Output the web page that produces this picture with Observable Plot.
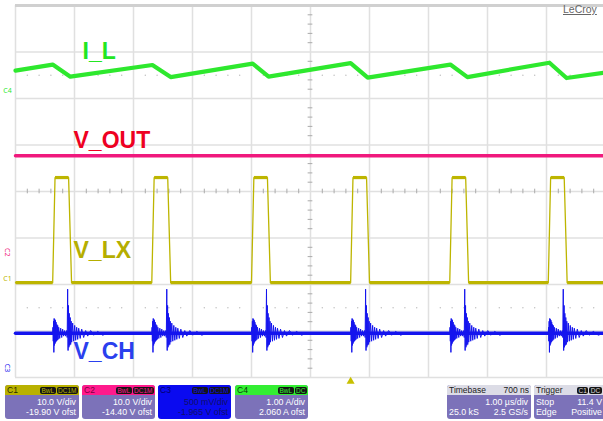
<!DOCTYPE html>
<html><head><meta charset="utf-8">
<script src="https://cdn.jsdelivr.net/npm/d3@7"></script>
<script src="https://cdn.jsdelivr.net/npm/@observablehq/plot@0.6"></script>
<style>
body{margin:0;background:#fff;font-family:"Liberation Sans",Arial,sans-serif;}
#wrap{position:relative;width:603px;height:421px;overflow:hidden;background:#fff;}
#chart svg{display:block;}
#bar{position:relative;width:603px;height:36px;}
#logo{position:absolute;left:563px;top:3px;font-size:10.5px;color:#666;text-decoration:underline;}
.box{position:absolute;top:0;height:34px;border-radius:3px;background:#7c72b9;overflow:hidden;color:#fff;}
.hd{position:absolute;left:0;right:0;top:0;height:10px;font-size:8.5px;line-height:10px;}
.hd .nm{position:absolute;left:2px;top:0;}
.hd .rt{position:absolute;right:2px;top:0;}
.tags{position:absolute;right:1px;top:1.5px;display:flex;gap:1px;}
.tag{background:#151515;border-radius:2px;padding:0 1.5px;font-size:6.5px;line-height:7px;height:7px;}
.row{position:absolute;left:2px;right:3px;font-size:8.8px;line-height:9.5px;height:9.5px;white-space:nowrap;}
.row .l{position:absolute;left:0;}
.row .r{position:absolute;right:0;}
</style></head><body>
<div id="wrap"><div id="chart"></div><div id="bar"></div><span id="logo">LeCroy</span></div>
<script>
// ---- channel settings (C1..C4) ----
const channels = ["C1", "C2", "C3", "C4"];
const chScale = [10, 10, 0.5, 1];                 // units / div
const chOffset = [-19.90, -14.40, -1.965, 2.060]; // offset
const chScaleLabel = ["10.0 V/div", "10.0 V/div", "500 mV/div", "1.00 A/div"];
const chOffsetLabel = ["-19.90 V ofst", "-14.40 V ofst", "-1.965 V ofst", "2.060 A ofst"];
const chTags = [["BwL", "DC1M"], ["BwL", "DC1M"], ["BwL", "DC1M"], ["BwL", "DC"]];
const chColors = ["#bdb500", "#f0197d", "#1414ee", "#2ee82e"];

// ---- timebase / trigger ----
const timebaseInfo = ["Timebase", "700 ns", "1.00 µs/div", "25.0 kS", "2.5 GS/s"];
const triggerInfo = ["Trigger", "C1", "DC", "Stop", "11.4 V", "Edge", "Positive"];
const triggerTime = 5.68; // µs

// ---- I_L (C4), amps, sawtooth vertices ----
const iLTime = [0, 0.63, 0.93, 2.32, 2.63, 4.02, 4.29, 5.68, 5.97, 7.37, 7.66, 9.05, 9.34, 9.966];
const iLAmp  = [0.54, 0.67, 0.41, 0.66, 0.40, 0.69, 0.41, 0.70, 0.39, 0.67, 0.40, 0.71, 0.38, 0.49];

// ---- V_OUT (C2), volts ----
const voutTime = [0, 9.966];
const voutVolt = [22.1, 22.1];

// ---- V_LX (C1), volts: pulse start times (µs), levels, edge durations (µs) ----
const lxStart = [0.63, 2.31, 4.00, 5.68, 7.36, 9.03];
const lxLevels = [0.3, 22.9];          // low, high
const lxEdges = [0.04, 0.23, 0.05];    // rise, top, fall

// ---- V_CH (C3), volts: baseline and ringing burst at each switching event ----
const chBaseVolt = 0.44;
const chBurstNs = [0, 5, 10, 15, 20, 25, 31, 36, 41, 46, 51, 58, 64, 71, 78, 85, 93, 102, 119, 136, 153, 169, 186, 203, 220, 237, 246,
  254, 261, 268, 275, 281, 288, 297, 305, 314, 322, 339, 356, 373, 390, 407, 424, 441, 466, 492, 525, 559, 593, 644, 695, 763, 847, 932];
const chBurstMv = [0, 65, -85, 130, -205, 160, -130, 150, -110, 140, -95, 120, -85, 95, -75, 85, -65, 65, -55, 55, -45, 45, -30, 30, -30, 30, -45,
  475, -185, 300, -150, 215, -130, 170, -120, 130, -95, 110, -85, 85, -75, 65, -65, 55, -55, 45, -45, 30, -30, 30, -20, 20, -20, 0];

// ---- build tables ----
const div = (k, v) => (v + chOffset[k]) / chScale[k];
const tEnd = 588 / 59;
const iL = iLTime.map((t, i) => ({t, v: div(3, iLAmp[i])}));
const vout = voutTime.map((t, i) => ({t, v: div(1, voutVolt[i])}));
const lx = [{t: 0, v: lxLevels[0]}];
for (const s of lxStart) {
  lx.push({t: s, v: lxLevels[0]});
  lx.push({t: s + lxEdges[0], v: lxLevels[1]});
  lx.push({t: s + lxEdges[0] + lxEdges[1], v: lxLevels[1]});
  lx.push({t: s + lxEdges[0] + lxEdges[1] + lxEdges[2], v: lxLevels[0]});
}
lx.push({t: tEnd, v: lxLevels[0]});
const lxD = lx.map(d => ({t: d.t, v: div(0, d.v)}));
const lxFlat = d3.pairs(lxD).filter(([a, b]) => a.v === b.v).map(([a, b]) => ({t1: a.t, t2: b.t, v: a.v}));
const chBase = [{t: 0, v: div(2, chBaseVolt)}, {t: tEnd, v: div(2, chBaseVolt)}];
const chBursts = lxStart.flatMap((s, i) => chBurstNs.map((ns, j) => ({t: s + ns / 1000, v: div(2, chBaseVolt + chBurstMv[j] / 1000), b: i})));
const markers = channels.map((c, k) => ({c, k, v: div(k, 0)}));

const minorX = d3.range(1, 50).map(i => i * 0.2).filter(x => Math.abs(x - Math.round(x)) > 1e-6);
const minorY = d3.range(-19, 20).map(i => i * 0.2).filter(y => Math.abs(y - Math.round(y)) > 1e-6);
const dotsY = [2.5, -2.5].flatMap(y => minorX.map(x => ({x, y})));

const labelFont = {fontFamily: "Liberation Sans, Arial, sans-serif", fontWeight: "bold", fontSize: 23, textAnchor: "start", lineAnchor: "bottom", frameAnchor: "top-left"};

const chart = Plot.plot({
  width: 603, height: 385,
  marginLeft: 15, marginRight: 0, marginTop: 5, marginBottom: 8,
  x: {domain: [0, tEnd], axis: null},
  y: {domain: [-4, 4], axis: null},
  style: {background: "transparent", overflow: "visible"},
  marks: [
    Plot.ruleX(d3.range(0, 10), {stroke: "#e0e0e0", strokeWidth: 1.5}),
    Plot.ruleY(d3.range(-4, 4), {stroke: "#e0e0e0", strokeWidth: 1.5}),
    Plot.ruleY([4], {stroke: "#d0d0d0", strokeWidth: 3}),
    Plot.ruleX(minorX, {x: d => d, y1: -0.05, y2: 0.05, stroke: "#aaa", strokeWidth: 1}),
    Plot.ruleY(minorY, {y: d => d, x1: 5 - 0.04, x2: 5 + 0.04, stroke: "#aaa", strokeWidth: 1}),
    Plot.dot(dotsY, {x: "x", y: "y", r: 0.7, fill: "#bdbdbd", stroke: null}),
    // V_CH
    Plot.line(chBase, {x: "t", y: "v", stroke: chColors[2], strokeWidth: 3.5}),
    Plot.line(chBursts, {x: "t", y: "v", z: "b", stroke: chColors[2], strokeWidth: 1}),
    // V_LX
    Plot.line(lxD, {x: "t", y: "v", stroke: chColors[0], strokeWidth: 1.3}),
    Plot.link(lxFlat, {x1: "t1", x2: "t2", y1: "v", y2: "v", stroke: chColors[0], strokeWidth: 3.2}),
    // V_OUT
    Plot.line(vout, {x: "t", y: "v", stroke: chColors[1], strokeWidth: 3.5}),
    // I_L
    Plot.line(iL, {x: "t", y: "v", stroke: chColors[3], strokeWidth: 4.2, strokeLinejoin: "round"}),
    // trace labels
    Plot.text(["I_L"], {...labelFont, dx: 67, dy: 53, fill: "#22e622"}),
    Plot.text(["V_OUT"], {...labelFont, dx: 58, dy: 142, fill: "#ee0022"}),
    Plot.text(["V_LX"], {...labelFont, dx: 58, dy: 252, fill: "#b5ae00"}),
    Plot.text(["V_CH"], {...labelFont, dx: 58, dy: 353, fill: "#2a40ee"}),
    // ground markers
    Plot.text(markers.filter(d => d.k === 0 || d.k === 3), {x: 0, y: "v", text: "c", dx: -8, dy: -3, fill: d => chColors[d.k], fontSize: 7, lineAnchor: "bottom", textAnchor: "middle"}),
    Plot.text(markers.filter(d => d.k === 1 || d.k === 2), {x: 0, y: "v", text: "c", dx: -8, dy: -2, rotate: 90, fill: d => chColors[d.k], fontSize: 7, textAnchor: "end", lineAnchor: "middle"}),
    // trigger marker
    Plot.dot([triggerTime], {x: d => d, frameAnchor: "bottom", dy: 4, symbol: "triangle", r: 3, fill: "#c8c000", stroke: null})
  ]
});
document.getElementById("chart").appendChild(chart);

// ---- info bar ----
const bar = document.getElementById("bar");
const boxLeft = [5, 82, 158, 235];
const hdColors = ["#b9b100", "#ff1a8c", "#0a0af0", "#33ee33"];
const hdText = ["#2a2a00", "#7a0040", "#00006a", "#0a3a0a"];
channels.forEach((c, k) => {
  const isC3 = k === 2;
  const box = document.createElement("div");
  box.className = "box";
  box.style.left = boxLeft[k] + "px";
  box.style.width = (k === 0 ? 74 : 73) + "px";
  if (isC3) box.style.background = hdColors[2];
  const body = isC3 ? "#10106a" : "#fff";
  box.innerHTML =
    `<div class="hd" style="background:${hdColors[k]};color:${hdText[k]}"><span class="nm">${c}</span>` +
    `<span class="tags">${chTags[k].map(t => `<span class="tag" style="color:${hdColors[k]}">${t}</span>`).join("")}</span></div>` +
    `<div class="row" style="top:13px;color:${body}"><span class="r">${chScaleLabel[k]}</span></div>` +
    `<div class="row" style="top:22.5px;color:${body}"><span class="r">${chOffsetLabel[k]}</span></div>`;
  bar.appendChild(box);
});
const tb = document.createElement("div");
tb.className = "box"; tb.style.left = "447px"; tb.style.width = "84px";
tb.innerHTML =
  `<div class="hd" style="background:#dcdce6;color:#222"><span class="nm">${timebaseInfo[0]}</span><span class="rt">${timebaseInfo[1]}</span></div>` +
  `<div class="row" style="top:13px"><span class="r">${timebaseInfo[2]}</span></div>` +
  `<div class="row" style="top:22.5px"><span class="l">${timebaseInfo[3]}</span><span class="r">${timebaseInfo[4]}</span></div>`;
bar.appendChild(tb);
const tr = document.createElement("div");
tr.className = "box"; tr.style.left = "534px"; tr.style.width = "72px";
tr.innerHTML =
  `<div class="hd" style="background:#dcdce6;color:#222"><span class="nm">${triggerInfo[0]}</span>` +
  `<span class="tags" style="left:43px;right:auto"><span class="tag" style="color:#ddd">${triggerInfo[1]}</span><span class="tag" style="color:#ddd">${triggerInfo[2]}</span></span></div>` +
  `<div class="row" style="top:13px;right:4px"><span class="l">${triggerInfo[3]}</span><span class="r">${triggerInfo[4]}</span></div>` +
  `<div class="row" style="top:22.5px;right:4px"><span class="l">${triggerInfo[5]}</span><span class="r">${triggerInfo[6]}</span></div>`;
bar.appendChild(tr);
</script>
</body></html>
